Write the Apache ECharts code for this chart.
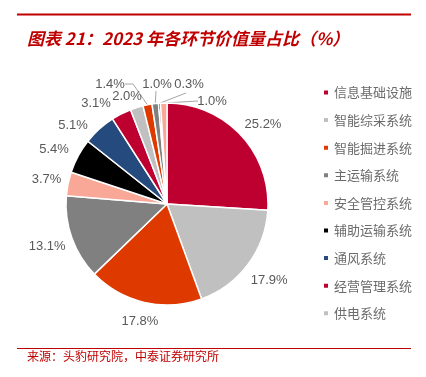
<!DOCTYPE html>
<html>
<head>
<meta charset="utf-8">
<script src="https://cdn.jsdelivr.net/npm/echarts@6/dist/echarts.min.js"></script>
<style>
  html, body { margin: 0; padding: 0; background: #fff; }
  #main { width: 426px; height: 377px; }
</style>
</head>
<body>
<div id="main"></div>
<script>
// legend categories (9 named parts)
var partNames = ['信息基础设施', '智能综采系统', '智能掘进系统', '主运输系统', '安全管控系统',
                 '辅助运输系统', '通风系统', '经营管理系统', '供电系统'];
// slice values in drawing order, the last four are not in the legend
var sliceNames = partNames.concat(['其他1', '其他2', '其他3', '其他4']);
var sliceValues = [25.2, 17.9, 17.8, 13.1, 3.7, 5.4, 5.1, 3.1, 2.0, 1.4, 1.0, 0.3, 1.0];
var sliceColors = ['#BE0030', '#C0C0C0', '#DE3A00', '#808080', '#F9A797', '#000000',
                   '#254A7E', '#BE0030', '#C0C0C0', '#DE3A00', '#808080', '#000000', '#F9A797'];

// pie geometry
var cx = 167, cy = 204, R = 101;
// labels that Excel moved: label centre (relative to pie centre),
// then optional leader bend points (relative too)
var labelSpots = {
  0: [[96, -80]],
  5: [[-113, -55]],
  6: [[-94, -79]],
  7: [[-71, -101]],
  8: [[-40, -108]],
  9: [[-57, -120], [-34, -120], [-42, -120]],
  10: [[-10, -120], [-11, -113], [-11, -113]],
  11: [[22, -120], [19, -111], [19, -111]],
  12: [[45, -103], [31, -103], [31, -103]]
};

var total = 0;
for (var i = 0; i < sliceValues.length; i++) total += sliceValues[i];
var midAngles = [];
var run = 0;
for (var i = 0; i < sliceValues.length; i++) {
  midAngles.push((run + sliceValues[i] / 2) / total * Math.PI * 2);
  run += sliceValues[i];
}

var chartDom = document.getElementById('main');
var chart = echarts.init(chartDom);

var pieData = [];
for (var i = 0; i < sliceValues.length; i++) {
  pieData.push({
    name: sliceNames[i],
    value: sliceValues[i],
    itemStyle: { color: sliceColors[i] },
    labelLine: { show: !!(labelSpots[i] && labelSpots[i].length > 1) }
  });
}

var option = {
  backgroundColor: '#fff',
  animation: false,
  title: {
    text: '图表 21：2023 年各环节价值量占比（%）',
    left: 22,
    top: 25,
    textStyle: {
      color: '#C00000',
      fontSize: 17,
      fontStyle: 'italic',
      fontWeight: 'bold',
      fontFamily: 'Noto Sans CJK SC'
    }
  },
  legend: {
    data: partNames,
    orient: 'vertical',
    left: 317,
    top: 81,
    itemWidth: 6,
    itemHeight: 6,
    itemGap: 14.6,
    icon: 'rect',
    textStyle: { color: '#6b6b6b', fontSize: 13, fontFamily: 'Noto Sans CJK SC' }
  },
  graphic: [
    { type: 'line', shape: { x1: 17, y1: 14.5, x2: 411, y2: 14.5 }, style: { stroke: '#C00000', lineWidth: 2 } },
    { type: 'line', shape: { x1: 17, y1: 348.5, x2: 411, y2: 348.5 }, style: { stroke: '#C00000', lineWidth: 1 } },
    { type: 'text', left: 27, top: 350,
      style: { text: '来源：头豹研究院，中泰证券研究所', fill: '#C00000', fontSize: 12, fontFamily: 'Noto Sans CJK SC' } }
  ],
  series: [{
    type: 'pie',
    center: [cx, cy],
    radius: R,
    startAngle: 90,
    clockwise: true,
    avoidLabelOverlap: false,
    itemStyle: { borderColor: '#fff', borderWidth: 1.5 },
    label: {
      show: true,
      position: 'outside',
      color: '#595959',
      fontSize: 13,
      fontFamily: 'Arial, Liberation Sans',
      formatter: function (p) { return p.value.toFixed(1) + '%'; }
    },
    labelLine: {
      length: 8,
      length2: 6,
      lineStyle: { color: '#A6A6A6', width: 1 }
    },
    labelLayout: function (p) {
      var i = p.dataIndex;
      var ux = Math.sin(midAngles[i]), uy = -Math.cos(midAngles[i]);
      var ex = cx + ux * R, ey = cy + uy * R;
      var spot = labelSpots[i];
      if (spot) {
        var out = { x: cx + spot[0][0], y: cy + spot[0][1], align: 'center', verticalAlign: 'middle' };
        if (spot.length > 1) {
          out.labelLinePoints = [[ex, ey], [cx + spot[1][0], cy + spot[1][1]], [cx + spot[2][0], cy + spot[2][1]]];
        }
        return out;
      }
      // Excel-like: label box sits just outside the rim along the bisector
      var w = p.labelRect.width;
      var d = R + 3 + Math.abs(ux) * (w / 2 + 2) + Math.abs(uy) * 12;
      return { x: cx + ux * d, y: cy + uy * d, align: 'center', verticalAlign: 'middle' };
    },
    data: pieData
  }]
};
chart.setOption(option);
</script>
</body>
</html>
